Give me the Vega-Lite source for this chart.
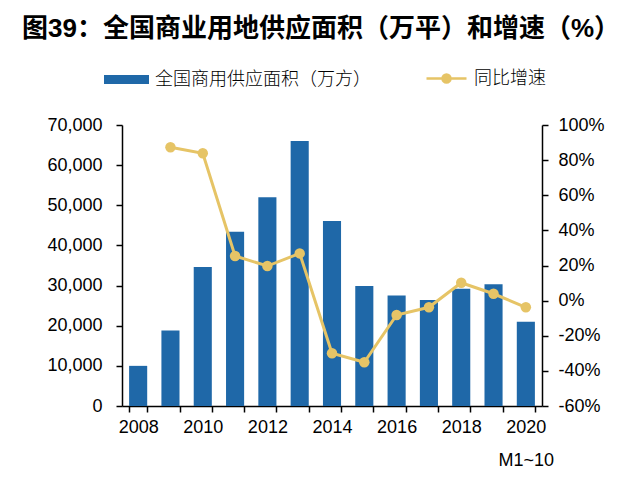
{
  "$schema": "https://vega.github.io/schema/vega-lite/v6.json",
  "autosize": {"type": "none"},
  "width": 420,
  "height": 281,
  "padding": {"left": 122, "top": 125, "right": 97, "bottom": 89},
  "background": "white",
  "title": {
    "text": "图39：全国商业用地供应面积（万平）和增速（%）",
    "anchor": "start",
    "frame": "group",
    "dx": -100,
    "offset": 15,
    "font": "Liberation Sans, Noto Sans CJK SC",
    "fontSize": 26,
    "fontWeight": "bold",
    "color": "#000000"
  },
  "config": {
    "view": {"stroke": null},
    "axis": {
      "labelFont": "Liberation Sans",
      "labelFontSize": 18,
      "labelColor": "#000000",
      "domainColor": "#000000",
      "tickColor": "#000000",
      "domainWidth": 1.5,
      "tickWidth": 1.5,
      "tickSize": 6,
      "grid": false,
      "title": null,
      "labelOverlap": false
    },
    "legend": {
      "labelFont": "Noto Sans CJK SC",
      "labelFontSize": 18,
      "labelFontWeight": 300,
      "labelColor": "#000000",
      "labelLimit": 400,
      "orient": "none",
      "direction": "horizontal",
      "title": null
    }
  },
  "data": {
    "values": [
      {"year": "2008", "area": 10000, "growth": null},
      {"year": "2009", "area": 18800, "growth": 0.873},
      {"year": "2010", "area": 34600, "growth": 0.839},
      {"year": "2011", "area": 43400, "growth": 0.254},
      {"year": "2012", "area": 52000, "growth": 0.197},
      {"year": "2013", "area": 66000, "growth": 0.269},
      {"year": "2014", "area": 46100, "growth": -0.300},
      {"year": "2015", "area": 29900, "growth": -0.351},
      {"year": "2016", "area": 27500, "growth": -0.082},
      {"year": "2017", "area": 26400, "growth": -0.038},
      {"year": "2018", "area": 29200, "growth": 0.102},
      {"year": "2019", "area": 30300, "growth": 0.039},
      {"year": "2020", "area": 21000, "growth": -0.038}
    ]
  },
  "encoding": {
    "x": {
      "field": "year",
      "type": "ordinal",
      "scale": {"paddingInner": 0.44, "paddingOuter": 0.22},
      "axis": {
        "labelAngle": 0,
        "tickBand": "extent",
        "labelPadding": 6,
        "labelLineHeight": 33,
        "labelBaseline": "top",
        "labelExpr": "datum.value == '2020' ? ['2020', 'M1~10'] : (indexof(['2008','2010','2012','2014','2016','2018'], datum.value) >= 0 ? datum.value : '')"
      }
    }
  },
  "layer": [
    {
      "mark": {"type": "bar"},
      "encoding": {
        "y": {
          "field": "area",
          "type": "quantitative",
          "scale": {"domain": [0, 70000], "nice": false},
          "axis": {"values": [0, 10000, 20000, 30000, 40000, 50000, 60000, 70000], "format": ",d", "labelPadding": 14}
        },
        "color": {
          "datum": "全国商用供应面积（万方）",
          "type": "nominal",
          "scale": {"range": ["#1F68A8"]},
          "legend": {
            "legendX": -18,
            "legendY": -68,
            "symbolType": "M-1,-0.2H1V0.2H-1Z",
            "symbolSize": 2025,
            "symbolStrokeWidth": 0,
            "labelOffset": 6
          }
        }
      }
    },
    {
      "encoding": {
        "y": {
          "field": "growth",
          "type": "quantitative",
          "scale": {"domain": [-0.6, 1.0], "nice": false},
          "axis": {
            "orient": "right",
            "values": [-0.6, -0.4, -0.2, 0, 0.2, 0.4, 0.6, 0.8, 1.0],
            "labelOverlap": false,
            "labelPadding": 10,
            "labelExpr": "(datum.value < -0.001 ? '-' : '') + format(abs(datum.value) * 100, '.0f') + '%'"
          }
        }
      },
      "layer": [
        {
          "mark": {"type": "line", "strokeWidth": 3},
          "encoding": {
            "stroke": {
              "datum": "同比增速",
              "type": "nominal",
              "scale": {"range": ["#E6C466"]},
              "legend": {
                "legendX": 303,
                "legendY": -68,
                "symbolType": "M-1,0H1M0.2,0A0.2,0.2,0,1,1,-0.2,0A0.2,0.2,0,1,1,0.2,0Z",
                "symbolSize": 1600,
                "symbolStrokeWidth": 2.5,
                "symbolFillColor": "#E6C466",
                "labelOffset": 6
              }
            }
          }
        },
        {
          "mark": {"type": "circle", "size": 110, "opacity": 1, "color": "#E6C466"}
        }
      ]
    }
  ],
  "resolve": {"scale": {"y": "independent"}}
}
